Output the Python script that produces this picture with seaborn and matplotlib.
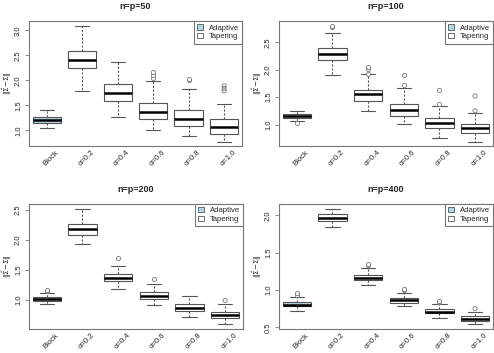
import matplotlib
matplotlib.use("Agg")
import matplotlib.pyplot as plt
import matplotlib.transforms as mtransforms
from matplotlib.patches import Patch
import pandas as pd
import seaborn as sns

# categories on the x axis, and the group each belongs to
methods = ["Block", "α=0.2", "α=0.4", "α=0.6", "α=0.8", "α=1.0"]
groups = ["Adaptive", "Tapering", "Tapering", "Tapering", "Tapering", "Tapering"]
titles = ["n=p=50", "n=p=100", "n=p=200", "n=p=400"]

# five number summaries [low whisker, Q1, median, Q3, high whisker]
stats_50 = [[1.04, 1.14, 1.21, 1.26, 1.40],
            [1.79, 2.24, 2.41, 2.59, 3.09],
            [1.26, 1.59, 1.75, 1.92, 2.37],
            [1.01, 1.22, 1.37, 1.55, 1.98],
            [0.89, 1.08, 1.23, 1.40, 1.83],
            [0.78, 0.93, 1.06, 1.22, 1.52]]
stats_100 = [[1.07, 1.12, 1.15, 1.19, 1.24],
             [1.90, 2.17, 2.28, 2.39, 2.67],
             [1.25, 1.43, 1.55, 1.63, 1.92],
             [1.01, 1.16, 1.27, 1.37, 1.67],
             [0.75, 0.93, 1.02, 1.11, 1.34],
             [0.69, 0.84, 0.93, 1.01, 1.21]]
stats_200 = [[0.93, 0.98, 1.01, 1.04, 1.12],
             [1.93, 2.08, 2.18, 2.26, 2.52],
             [1.18, 1.31, 1.37, 1.43, 1.56],
             [0.91, 1.01, 1.07, 1.13, 1.26],
             [0.72, 0.82, 0.87, 0.93, 1.07],
             [0.59, 0.69, 0.74, 0.80, 0.93]]
stats_400 = [[0.72, 0.78, 0.80, 0.84, 0.91],
             [1.84, 1.93, 1.97, 2.02, 2.09],
             [1.07, 1.13, 1.16, 1.20, 1.29],
             [0.78, 0.82, 0.86, 0.89, 0.96],
             [0.62, 0.69, 0.71, 0.74, 0.81],
             [0.54, 0.58, 0.61, 0.65, 0.70]]

# outlying points per category
outliers_50 = [[], [], [], [2.05, 2.10, 2.16], [2.00, 2.03], [1.79, 1.84, 1.89]]
outliers_100 = [[1.035], [2.78, 2.80], [1.93, 2.01, 2.05], [1.72, 1.90], [1.37, 1.63], [1.25, 1.52]]
outliers_200 = [[1.15, 1.17], [], [1.70], [1.34], [], [0.99]]
outliers_400 = [[0.94, 0.96], [], [1.33, 1.35], [1.00, 1.01], [0.84, 0.85], [0.75]]

all_stats = [stats_50, stats_100, stats_200, stats_400]
all_outliers = [outliers_50, outliers_100, outliers_200, outliers_400]
yticks = [[1.0, 1.5, 2.0, 2.5, 3.0], [1.0, 1.5, 2.0, 2.5], [1.0, 1.5, 2.0, 2.5], [0.5, 1.0, 1.5, 2.0]]

sns.set_theme(style="white")
plt.rcParams["font.family"] = ["Liberation Sans", "DejaVu Sans"]
plt.rcParams["mathtext.fontset"] = "dejavusans"

fig = plt.figure(figsize=(4.94, 3.53), dpi=100)
positions = [[0.0587, 0.586, 0.431, 0.354],
             [0.5648, 0.586, 0.433, 0.354],
             [0.0587, 0.068, 0.433, 0.354],
             [0.5648, 0.068, 0.433, 0.354]]
palette = {"Adaptive": "#ADD8E6", "Tapering": "white"}
edge = "#555555"

for k in range(4):
    ax = fig.add_axes(positions[k])
    rows = []
    for i in range(len(methods)):
        for v in all_stats[k][i]:
            rows.append({"method": methods[i], "group": groups[i], "value": v})
    df = pd.DataFrame(rows)
    orows = []
    for i in range(len(methods)):
        for v in all_outliers[k][i]:
            orows.append({"method": methods[i], "value": v})
    odf = pd.DataFrame(orows, columns=["method", "value"])

    sns.boxplot(data=df, x="method", y="value", hue="group", order=methods, palette=palette,
                dodge=False, width=0.8, whis=(0, 100), showfliers=False, linecolor=edge,
                linewidth=0.8, legend=False, ax=ax,
                medianprops={"color": "black", "linewidth": 1.8},
                whiskerprops={"linestyle": (0, (2, 1.5)), "color": edge, "linewidth": 0.8},
                capprops={"color": edge, "linewidth": 0.8})
    sns.stripplot(data=odf, x="method", y="value", order=methods, jitter=False, color="white",
                  edgecolor="#777777", linewidth=0.6, size=3, ax=ax, zorder=5)
    ax.collections[-1].set_facecolor("none")

    vals = [v for s in all_stats[k] for v in s] + [v for o in all_outliers[k] for v in o]
    lo, hi = min(vals), max(vals)
    pad = 0.04 * (hi - lo)
    ax.set_ylim(lo - pad, hi + pad)
    ax.set_xlim(-0.5, 5.5)
    ax.set_yticks(yticks[k])
    ax.set_yticklabels([f"{t:.1f}" for t in yticks[k]], rotation=90, va="center", fontsize=5.5)
    ax.tick_params(axis="y", length=3, width=0.6, color="#777777", pad=2, left=True)
    ax.tick_params(axis="x", length=0, pad=2)
    ax.set_xticks(range(len(methods)))
    ax.set_xticklabels(methods, rotation=45, ha="center", va="top", fontsize=5.5)
    offset = mtransforms.ScaledTranslation(4 / 100, 0, fig.dpi_scale_trans)
    for lab in ax.get_xticklabels():
        lab.set_transform(lab.get_transform() + offset)
    ax.set_xlabel("")
    ax.set_ylabel(r"$\|\hat{\Sigma}\!-\!\Sigma\|$", fontsize=5, labelpad=0.5)
    ax.set_title(titles[k], fontsize=6.5, fontweight="bold", pad=9)
    for sp in ax.spines.values():
        sp.set_color("#777777")
        sp.set_linewidth(0.8)
        sp.set_visible(True)
    handles = [Patch(facecolor=palette["Adaptive"], edgecolor=edge, linewidth=0.6),
               Patch(facecolor="white", edgecolor=edge, linewidth=0.6)]
    leg = ax.legend(handles, ["Adaptive", "Tapering"], loc="upper right", fontsize=5.5,
                    fancybox=False, framealpha=1, borderaxespad=0, handlelength=0.7,
                    handleheight=0.7, handletextpad=0.8, borderpad=0.4, labelspacing=0.2)
    leg.get_frame().set_edgecolor("#777777")
    leg.get_frame().set_linewidth(0.8)

plt.savefig("out.png", dpi=100)
plt.close()
